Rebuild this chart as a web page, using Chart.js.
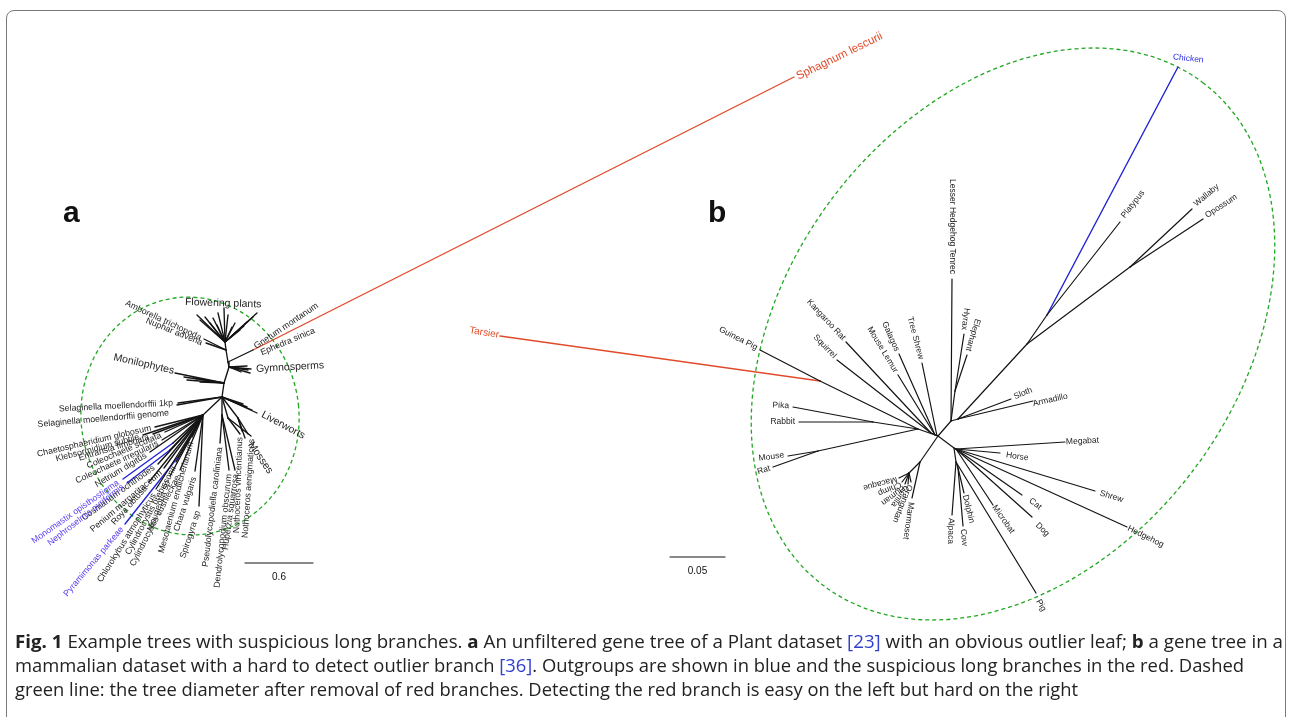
<!DOCTYPE html>
<html>
<head>
<meta charset="utf-8">
<script src="https://cdn.jsdelivr.net/npm/chart.js@4.4.1/dist/chart.umd.min.js"></script>
<style>
  html, body { margin: 0; padding: 0; background: #fff; }
  body { width: 1289px; height: 717px; position: relative; overflow: hidden; font-family: "Liberation Sans", Arial, sans-serif; }
  #frame { position: absolute; left: 6px; top: 10px; width: 1280px; height: 760px; border: 1.5px solid #7a7a7a; border-radius: 8px; box-sizing: border-box; }
  #trees { position: absolute; left: 0; top: 0; }
  .panel { position: absolute; font: bold 30px "Liberation Sans", Arial, sans-serif; color: #111; line-height: 1; }
  #caption { position: absolute; left: 15px; top: 629px; font-family: "Open Sans", "Noto Sans", sans-serif; font-size: 18.5px; color: #222; line-height: 24px; }
  #caption .line { display: block; white-space: nowrap; transform-origin: 0 50%; width: max-content; }
  #caption .ref { color: #2f3fcf; }
</style>
</head>
<body>
<div id="frame"></div>
<canvas id="trees" width="1289" height="717"></canvas>
<div class="panel" style="left:63px;top:197px">a</div>
<div class="panel" style="left:708px;top:197px">b</div>
<div id="caption">
  <span class="line" data-w="1268"><b>Fig. 1</b> Example trees with suspicious long branches. <b>a</b> An unfiltered gene tree of a Plant dataset <span class="ref">[23]</span> with an obvious outlier leaf; <b>b</b> a gene tree in a</span>
  <span class="line" data-w="1229">mammalian dataset with a hard to detect outlier branch <span class="ref">[36]</span>. Outgroups are shown in blue and the suspicious long branches in the red. Dashed</span>
  <span class="line" data-w="1063">green line: the tree diameter after removal of red branches. Detecting the red branch is easy on the left but hard on the right</span>
</div>
<script>
// ---------- Tree a: plant gene tree (layout units, one unit per canvas pixel) ----------
// branches are [x1, y1, x2, y2]
const plantBranches = [
  // backbone
  [225,342,226,350],[226,350,228,362],[228,362,229,367],[229,367,224,383],[224,383,222,397],[222,397,203,415],
  // flowering plants crown
  [225,342,197,315],[225,342,200,320],[225,342,205,317],[225,342,210,323],[225,342,213,318],[225,342,217,325],
  [225,342,218,313],[225,342,224,308],[225,342,228,315],[225,342,232,327],[225,342,235,323],[225,342,240,330],
  [225,342,247,322],[225,342,257,313],[225,342,253,317],[225,342,244,326],
  // Amborella, Nuphar
  [204,339,226,350],[206,343,226,350],
  // Gnetum / Ephedra stem
  [228,362,253,350],
  // gymnosperms
  [229,367,248,370],[229,367,250,373],[229,367,247,366],[229,367,241,372],[229,367,251,369],
  // monilophytes
  [224,383,175,373],[224,383,184,377],[224,383,187,380],[224,383,193,378],[224,383,200,382],
  // Selaginella
  [222,397,178,403],[222,397,177,405],
  // liverworts
  [222,397,257,413],[222,397,247,407],[222,397,252,410],[222,397,243,404],
  // lycophytes
  [222,397,222,415],[222,415,220,443],[222,415,229,470],[222,415,235,470],
  // hornworts
  [222,397,228,418],[228,418,240,434],[228,418,251,436],
  // mosses
  [222,397,238,418],[238,418,245,438],[238,418,242,431],[238,418,248,434],
  // streptophyte algae and chlorophytes
  [203,415,155,427],[203,415,143,435],[203,415,153,434],[203,415,165,432],[203,415,162,440],[203,415,150,452],
  [203,415,173,443],[203,415,170,450],[203,415,158,464],[203,415,164,468],[203,415,149,482],[203,415,178,457],
  [203,415,156,489],[203,415,176,462],[203,415,180,470],[203,415,170,476],[203,415,192,437],[203,415,195,471],
  [203,415,199,506]
];
const plantOutgroupBranches = [[173,443,123,479],[170,450,127,483],[178,457,125,524]];
const plantLongBranches = [[253,350,794,77]];

// leaf labels are [name, x, y, angle in degrees, anchor side]
const plantLeaves = [
  ['Amborella trichopoda',201,338,25,'right'],
  ['Nuphar advena',202,343,22,'right'],
  ['Gnetum montanum',255,347,-34,'left'],
  ['Ephedra sinica',261,353,-23,'left'],
  ['Selaginella moellendorffii 1kp',173,403,-3,'right'],
  ['Selaginella moellendorffii genome',169,413,-5,'right'],
  ['Chaetosphaeridium globosum',151,428,-13,'right'],
  ['Klebsormidium subtile',139,437,-15,'right'],
  ['Entransia fimbriata',149,437,-17,'right'],
  ['Coleochaete scutata',161,435,-23,'right'],
  ['Coleochaete irregularis',158,443,-25,'right'],
  ['Netrium digitus',146,455,-31,'right'],
  ['Cosmarium ochthodes',154,467,-36,'right'],
  ['Penium margaritaceum',161,472,-40,'right'],
  ['Roya obtusa',146,487,-48,'right'],
  ['Chlorokybus atmophyticus',154,494,-58,'right'],
  ['Cylindrocystis brebissonii',174,467,-62,'right'],
  ['Cylindrocystis cushleckae',178,476,-63,'right'],
  ['Mougeotia sp',168,481,-70,'right'],
  ['Mesotaenium endlicherianum',191,442,-75,'right'],
  ['Chara vulgaris',194,477,-72,'right'],
  ['Spirogyra sp',198,511,-72,'right'],
  ['Pseudolycopodiella caroliniana',220,447,-83,'right'],
  ['Dendrolycopodium obscurum',229,474,-84,'right'],
  ['Huperzia squarrosa',236,474,-82,'right'],
  ['Nothoceros vincentianus',240,437,-88,'right'],
  ['Nothoceros aenigmaticus',252,439,-86,'right']
];
const plantOutgroupLeaves = [
  ['Monomastix opisthostigma',118,482,-35,'right'],
  ['Nephroselmis pyriformis',123,486,-38,'right'],
  ['Pyramimonas parkeae',122,528,-50,'right']
];
const plantLongLeaves = [['Sphagnum lescurii',797,77,-26,'left']];
const plantClades = [
  ['Flowering plants',185,302,2,'left'],
  ['Gymnosperms',256,369,-3,'left'],
  ['Monilophytes',174,371,13,'right'],
  ['Liverworts',262,414,28,'left'],
  ['Mosses',250,443,55,'left']
];

// ---------- Tree b: mammalian gene tree ----------
const mammalBranches = [
  // central nodes
  [938,436,918,429],[938,436,951,421],[938,436,954,448],[938,436,920,462],
  // rodents, lagomorphs
  [918,429,820,381],[820,381,760,350],
  [918,429,873,422],[873,422,793,407],[873,422,799,422],
  [918,429,818,451],[818,451,788,456],[818,451,773,467],
  [938,436,931,433],[931,433,837,360],[931,433,846,342],
  [935,435,898,375],[935,435,899,354],[937,436,922,363],
  // afrotheria, xenarthra, marsupials, platypus
  [951,421,952,279],[951,421,955,391],[955,391,964,334],[955,391,967,355],
  [951,421,958,419],[958,419,1011,399],[958,419,1033,401],
  [958,419,1027,344],[1027,344,1047,315],[1047,315,1120,222],
  [1027,344,1130,267],[1130,267,1192,209],[1130,267,1203,219],
  // laurasiatheria
  [954,448,956,449],
  [956,449,1065,442],[956,449,1000,453],[956,449,1095,491],[956,449,1127,527],
  [956,449,1022,495],[956,449,1032,517],[956,449,993,505],
  [954,448,956,462],[956,462,1036,593],[956,462,958,468],[958,468,964,493],[958,468,963,526],[956,462,952,515],
  // primates
  [920,462,912,498],[920,462,909,473],
  [909,473,899,478],[909,473,902,482],[909,473,905,484],[909,473,908,484],[909,473,911,482]
];
const mammalOutgroupBranches = [[1047,315,1178,67]];
const mammalLongBranches = [[820,381,500,336]];

const mammalLeaves = [
  ['Guinea Pig',757,348,27,'right'],
  ['Kangaroo Rat',844,339,47,'right'],
  ['Squirrel',835,357,46,'right'],
  ['Mouse Lemur',896,372,59,'right'],
  ['Galagos',897,351,66,'right'],
  ['Tree Shrew',921,359,75,'right'],
  ['Lesser Hedgehog Tenrec',952,274,90,'right'],
  ['Hyrax',964,330,97,'right'],
  ['Elephant',968,351,107,'right'],
  ['Pika',789,406,3,'right'],
  ['Rabbit',795,422,0,'right'],
  ['Mouse',784,455,-8,'right'],
  ['Rat',770,468,-18,'right'],
  ['Platypus',1123,217,-52,'left'],
  ['Wallaby',1195,205,-40,'left'],
  ['Opossum',1206,216,-33,'left'],
  ['Sloth',1014,397,-22,'left'],
  ['Armadillo',1033,404,-13,'left'],
  ['Megabat',1066,442,-3,'left'],
  ['Horse',1006,455,8,'left'],
  ['Shrew',1100,493,17,'left'],
  ['Hedgehog',1128,528,26,'left'],
  ['Cat',1030,500,37,'left'],
  ['Dog',1037,524,45,'left'],
  ['Microbat',994,506,55,'left'],
  ['Pig',1038,600,60,'left'],
  ['Dolphin',965,495,76,'left'],
  ['Cow',963,529,84,'left'],
  ['Alpaca',951,518,91,'left'],
  ['Marmoset',911,502,98,'left'],
  ['Orangutan',910,485,112,'left'],
  ['Gorilla',907,486,125,'left'],
  ['Human',904,487,143,'left'],
  ['Chimp',901,484,157,'left'],
  ['Macaque',897,479,165,'left']
];
const mammalOutgroupLeaves = [['Chicken',1173,57,6,'left']];
const mammalLongLeaves = [['Tarsier',499,335,9,'right']];

// scale bars: [x start, x end, y, label]
const scaleBars = [[245,313,563,'0.6'],[670,725,557,'0.05']];

// tree diameters after removing the long branches: [cx, cy, rx, ry, tilt deg]
const treeDiameters = [[190,416,109,119,-6],[1013,334,315,226,-53]];

// ---------- drawing ----------
const INK = '#141414', BLUE = '#2323d6', RED = '#e04b2a', GREEN = '#22a722';
const SANS = '"Liberation Sans", Arial, sans-serif';

function branchSets(list, color, width) {
  return list.map(([x1, y1, x2, y2]) => ({
    data: [{x: x1, y: y1}, {x: x2, y: y2}],
    showLine: true, borderColor: color, borderWidth: width,
    pointRadius: 0, pointHoverRadius: 0, borderCapStyle: 'round', fill: false
  }));
}

const datasets = [
  ...branchSets(plantBranches, INK, 1.35),
  ...branchSets(plantOutgroupBranches, BLUE, 1.4),
  ...branchSets(plantLongBranches, RED, 1.4),
  ...branchSets(mammalBranches, INK, 1.2),
  ...branchSets(mammalOutgroupBranches, BLUE, 1.4),
  ...branchSets(mammalLongBranches, RED, 1.4),
  ...branchSets(scaleBars.map(([a, b, y]) => [a, y, b, y]), INK, 1.2)
];

const labelGroups = [
  {items: plantLeaves, font: '8.8px ' + SANS, color: '#1e1e1e'},
  {items: plantOutgroupLeaves, font: '8.8px ' + SANS, color: '#5a3cf0'},
  {items: plantLongLeaves, font: '11.5px ' + SANS, color: RED},
  {items: plantClades, font: '10.5px ' + SANS, color: '#1e1e1e'},
  {items: mammalLeaves, font: '8.5px ' + SANS, color: '#222'},
  {items: mammalOutgroupLeaves, font: '8.5px ' + SANS, color: '#2b2be0'},
  {items: mammalLongLeaves, font: '10px ' + SANS, color: RED},
  {items: scaleBars.map(([a, b, y, t]) => [t, (a + b) / 2, y + 14, 0, 'center']), font: '10px ' + SANS, color: '#111'}
];

const diameterPlugin = {
  id: 'treeDiameters',
  beforeDatasetsDraw(chart) {
    const {ctx, scales: {x, y}} = chart;
    const kx = Math.abs(x.getPixelForValue(1) - x.getPixelForValue(0));
    const ky = Math.abs(y.getPixelForValue(1) - y.getPixelForValue(0));
    ctx.save();
    ctx.strokeStyle = GREEN;
    ctx.lineWidth = 1.3;
    ctx.setLineDash([4, 3]);
    treeDiameters.forEach(([cx, cy, rx, ry, tilt]) => {
      ctx.beginPath();
      ctx.ellipse(x.getPixelForValue(cx), y.getPixelForValue(cy), rx * kx, ry * ky, tilt * Math.PI / 180, 0, Math.PI * 2);
      ctx.stroke();
    });
    ctx.restore();
  }
};

const labelPlugin = {
  id: 'leafLabels',
  afterDatasetsDraw(chart) {
    const {ctx, scales: {x, y}} = chart;
    ctx.save();
    ctx.textBaseline = 'middle';
    labelGroups.forEach(g => {
      ctx.font = g.font;
      ctx.fillStyle = g.color;
      g.items.forEach(([text, lx, ly, angle, side]) => {
        ctx.save();
        ctx.translate(x.getPixelForValue(lx), y.getPixelForValue(ly));
        ctx.rotate(angle * Math.PI / 180);
        ctx.textAlign = side;
        ctx.fillText(text, 0, 0);
        ctx.restore();
      });
    });
    ctx.restore();
  }
};

new Chart(document.getElementById('trees'), {
  type: 'scatter',
  data: {datasets},
  options: {
    responsive: false,
    animation: false,
    events: [],
    layout: {padding: 0},
    plugins: {legend: {display: false}, tooltip: {enabled: false}},
    scales: {
      x: {type: 'linear', min: 0, max: 1289, display: false},
      y: {type: 'linear', min: 0, max: 717, reverse: true, display: false}
    }
  },
  plugins: [diameterPlugin, labelPlugin]
});

// stretch each caption line to its measured column width
document.querySelectorAll('#caption .line').forEach(el => {
  const w = el.getBoundingClientRect().width;
  el.style.transform = 'scaleX(' + (Number(el.dataset.w) / w) + ')';
});
</script>
</body>
</html>
